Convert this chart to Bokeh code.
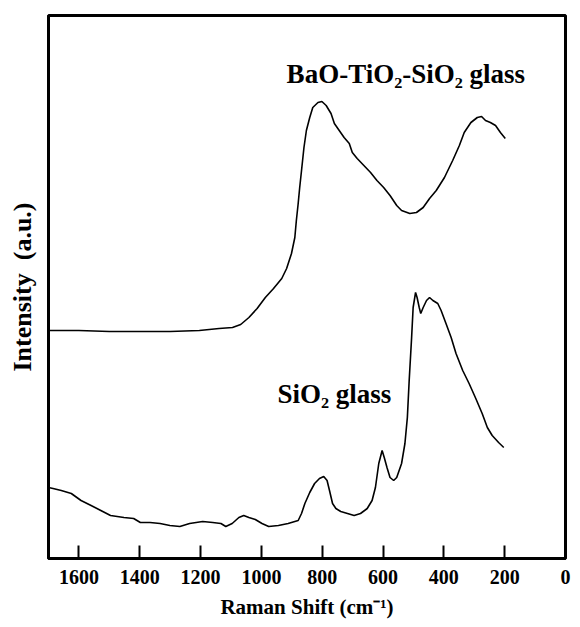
from bokeh.plotting import figure
from bokeh.models import Range1d, FixedTicker, Label
from bokeh.embed import file_html
from bokeh.resources import INLINE

# BaO-TiO2-SiO2 glass (offset upper curve)
bts_x = [1700, 1600, 1500, 1400, 1300, 1204, 1139, 1095, 1068, 1041, 1014, 987,
         960, 933, 917, 901, 890, 885, 879, 874, 868, 860, 852, 841, 831, 814,
         801, 787, 771, 760, 744, 728, 711, 701, 685, 663, 641, 620, 598, 577,
         555, 539, 512, 490, 468, 447, 425, 398, 371, 349, 333, 311, 290, 276,
         263, 247, 230, 214, 198]
bts_y = [227, 227, 226, 226, 226, 227, 229, 230, 233, 240, 249, 260,
         269, 279, 289, 304, 320, 337, 354, 370, 387, 410, 427, 440, 450, 455,
         456, 452, 444, 434, 427, 420, 414, 405, 399, 392, 385, 377, 370, 362,
         352, 347, 344, 345, 350, 359, 367, 380, 397, 412, 425, 435, 440, 441,
         437, 435, 432, 425, 419]

# SiO2 glass (lower curve)
si_x = [1700, 1685, 1658, 1625, 1593, 1560, 1528, 1496, 1452, 1420, 1398, 1366,
        1333, 1301, 1268, 1236, 1193, 1160, 1133, 1117, 1096, 1074, 1058, 1041,
        1020, 998, 976, 944, 912, 879, 868, 857, 841, 825, 809, 795, 784, 776,
        766, 755, 739, 717, 695, 674, 652, 636, 625, 614, 603, 596, 587, 577,
        565, 555, 539, 528, 520, 514, 506, 501, 493, 488, 481, 476, 468, 457,
        447, 436, 420, 409, 393, 376, 360, 338, 317, 295, 274, 257, 241, 220,
        203]
si_y = [70, 69, 67, 64, 57, 52, 47, 42, 40, 39, 35, 35,
        34, 32, 31, 34, 36, 35, 34, 31, 34, 40, 42, 40,
        38, 34, 31, 32, 34, 37, 44, 54, 65, 74, 79, 81, 77, 67,
        54, 49, 46, 44, 42, 44, 49, 57, 70, 94, 107, 100, 90, 80,
        77, 80, 94, 114, 140, 177, 220, 250, 265, 260, 250, 244, 250, 257,
        260, 257, 254, 247, 234, 220, 204, 187, 174, 159, 144, 130, 122, 115,
        110]

x_ticks = [1600, 1400, 1200, 1000, 800, 600, 400, 200, 0]
y_ticks = [227]

FONT = "Liberation Serif"

p = figure(width=574, height=624, output_backend="svg", toolbar_location=None,
           x_range=Range1d(1700, 0), y_range=Range1d(-1, 542),
           min_border_left=48, min_border_right=9, min_border_top=15,
           min_border_bottom=66)

p.line(bts_x, bts_y, line_color="black", line_width=1.6)
p.line(si_x, si_y, line_color="black", line_width=1.6)

p.grid.visible = False
p.outline_line_color = "black"
p.outline_line_width = 3

xa = p.xaxis[0]
xa.ticker = FixedTicker(ticks=x_ticks)
xa.minor_tick_line_color = None
xa.major_tick_in = 13
xa.major_tick_out = 0
xa.major_tick_line_width = 2
xa.axis_line_width = 3
xa.major_label_standoff = 11
xa.major_label_text_font = FONT
xa.major_label_text_font_style = "bold"
xa.major_label_text_font_size = "20px"
xa.major_label_text_color = "black"
xa.axis_label = "Raman Shift (cm\u207b\u00b9)"
xa.axis_label_text_font = FONT
xa.axis_label_text_font_style = "bold"
xa.axis_label_text_font_size = "21px"
xa.axis_label_text_color = "black"
xa.axis_label_standoff = 8

ya = p.yaxis[0]
ya.ticker = FixedTicker(ticks=y_ticks)
ya.minor_tick_line_color = None
ya.major_tick_in = 8
ya.major_tick_out = 0
ya.major_tick_line_width = 1
ya.axis_line_width = 3
ya.major_label_overrides = {227: ""}
ya.major_label_standoff = 0
ya.axis_label = "Intensity\u00a0\u00a0(a.u.)"
ya.axis_label_text_font = FONT
ya.axis_label_text_font_style = "bold"
ya.axis_label_text_font_size = "26px"
ya.axis_label_text_color = "black"
ya.axis_label_standoff = 12

p.add_layout(Label(x=917, y=484, text="BaO-TiO\u2082-SiO\u2082 glass",
                   text_font=FONT, text_font_style="bold", text_font_size="27px",
                   text_align="left", text_baseline="alphabetic", text_color="black"))
p.add_layout(Label(x=947, y=164, text="SiO\u2082 glass",
                   text_font=FONT, text_font_style="bold", text_font_size="27px",
                   text_align="left", text_baseline="alphabetic", text_color="black"))

open("out.html", "w").write(file_html(p, INLINE))
